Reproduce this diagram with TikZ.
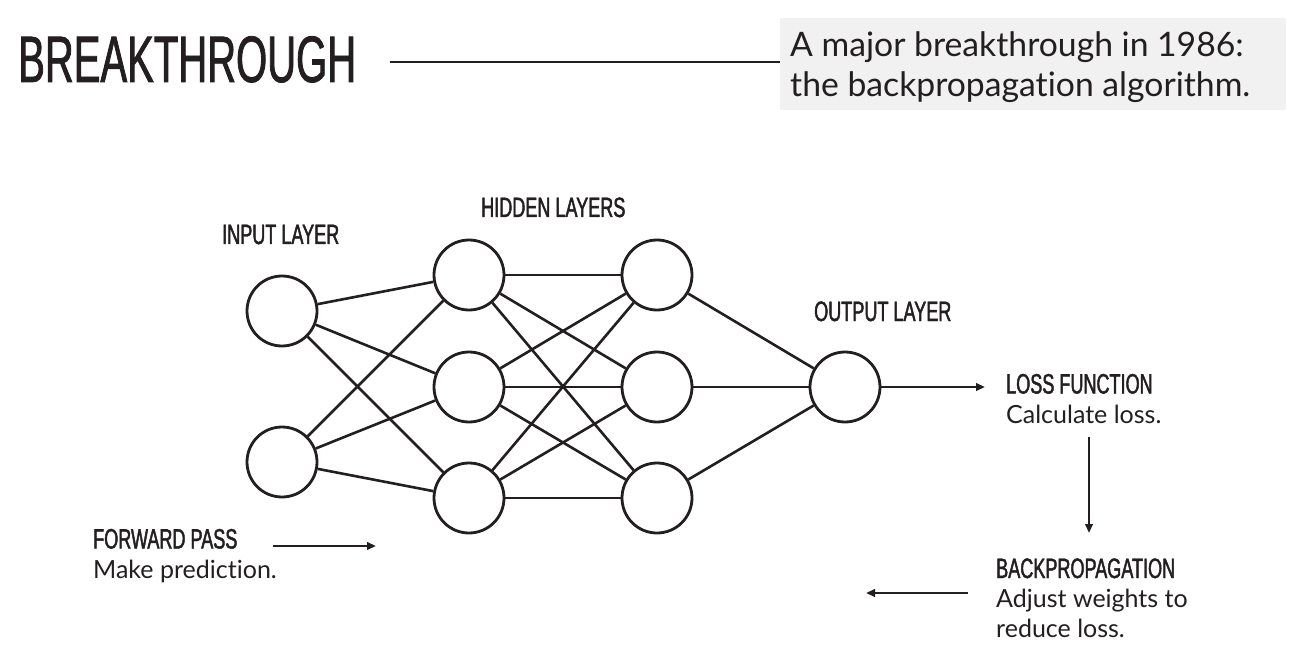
\documentclass[tikz,border=0pt]{standalone}
\usepackage{fontspec}
\setmainfont{Lato}[Ligatures=NoCommon]
\newfontfamily\titlefont[FakeStretch=0.61,FakeBold=1.2]{Liberation Sans}
\newfontfamily\condfont[FakeStretch=0.645,FakeBold=1.6]{Liberation Sans}
\usetikzlibrary{arrows.meta}
\definecolor{ink}{HTML}{231F20}
\definecolor{boxgray}{HTML}{F1F1F1}
\begin{document}
\begin{tikzpicture}[x=1bp,y=-1bp,
  neuron/.style={circle, draw=ink, line width=2.8bp, minimum size=70bp, inner sep=0pt},
  link/.style={draw=ink, line width=2.6bp},
  flow/.style={draw=ink, line width=2.2bp, -{Triangle[length=9bp,width=7.5bp]}},
  heading/.style={anchor=base west, inner sep=0pt, text=ink, font=\condfont\fontsize{28bp}{28bp}\selectfont},
  block/.style={anchor=base west, inner sep=0pt, text=ink, align=left, font=\fontsize{25bp}{29.5bp}\selectfont}]
\useasboundingbox (0,0) rectangle (1298,662);
\fill[white] (0,0) rectangle (1298,662);

% title and header
\node[anchor=base west, inner sep=0pt, text=ink, font=\titlefont\fontsize{65.6bp}{66bp}\selectfont] (title) at (18,82) {BREAKTHROUGH};
\node[anchor=north west, fill=boxgray, minimum width=506bp, minimum height=92bp, inner sep=0pt] (box) at (780,18) {};
\coordinate (hl) at (390,62);
\draw[ink, line width=1.4bp] (hl) -- (hl -| box.west);
\node[anchor=base west, inner sep=0pt, text=ink, align=left, font=\fontsize{33.7bp}{40bp}\selectfont] (boxtext) at (790,97) {A major breakthrough in 1986:\\the backpropagation algorithm.};

% neurons
\node[neuron] (i1) at (282,311) {};
\node[neuron] (i2) at (282,462) {};
\node[neuron] (a1) at (469,275) {};
\node[neuron] (a2) at (469,387) {};
\node[neuron] (a3) at (469,498) {};
\node[neuron] (b1) at (657,275) {};
\node[neuron] (b2) at (657,387) {};
\node[neuron] (b3) at (657,498) {};
\node[neuron] (o) at (845,387) {};

\foreach \s in {i1,i2} \foreach \t in {a1,a2,a3} \draw[link] (\s) -- (\t);
\foreach \s in {a1,a2,a3} \foreach \t in {b1,b2,b3} \draw[link] (\s) -- (\t);
\foreach \s in {b1,b2,b3} \draw[link] (\s) -- (o);

% layer labels
\node[heading] (inl) at (222,244) {INPUT LAYER};
\node[heading] (hidl) at (481,217) {HIDDEN LAYERS};
\node[heading] (outl) at (814,321) {OUTPUT LAYER};

% process blocks
\node[block] (loss) at (1006,423) {{\condfont\fontsize{28bp}{28bp}\selectfont LOSS FUNCTION}\\Calculate loss.};
\node[block] (fwd) at (93,578) {{\condfont\fontsize{28bp}{28bp}\selectfont FORWARD PASS}\\Make prediction.};
\node[block] (back) at (996,637) {{\condfont\fontsize{28bp}{28bp}\selectfont BACKPROPAGATION}\\Adjust weights to\\reduce loss.};

% arrows
\coordinate (lossend) at (985,387);
\draw[flow] (o) -- (lossend);
\coordinate (vs) at (1089,437);
\coordinate (ve) at (1089,533);
\draw[flow] (vs) -- (ve);
\coordinate (fs) at (273,546);
\coordinate (fe) at (376,546);
\draw[flow] (fs) -- (fe);
\coordinate (bs) at (968,593);
\coordinate (be) at (866,593);
\draw[flow] (bs) -- (be);
\end{tikzpicture}
\end{document}
